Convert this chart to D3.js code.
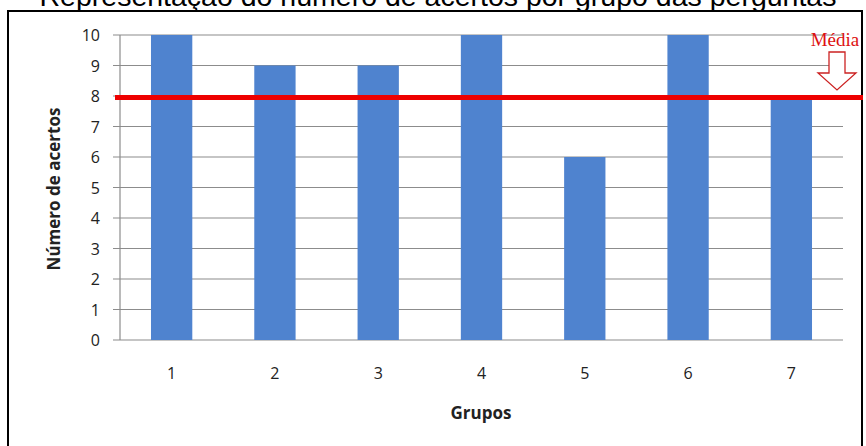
<!DOCTYPE html>
<html>
<head>
<meta charset="utf-8">
<script src="https://cdn.jsdelivr.net/npm/d3@7"></script>
<style>
  body { margin: 0; background: #fff; }
  svg { display: block; }
</style>
</head>
<body>
<div id="chart"></div>
<script>
var grupos = ['1', '2', '3', '4', '5', '6', '7'];
var acertos = [10, 9, 9, 10, 6, 10, 8];
var yTicks = [0, 1, 2, 3, 4, 5, 6, 7, 8, 9, 10];
var media = 7.95;

var width = 866, height = 446;
var margin = { left: 120, right: 23, top: 35, bottom: 106 };

var svg = d3.select('#chart').append('svg')
  .attr('width', width)
  .attr('height', height);

// frame
svg.append('rect')
  .attr('x', 8).attr('y', 11)
  .attr('width', 854).attr('height', 460)
  .attr('fill', 'none')
  .attr('stroke', '#000')
  .attr('stroke-width', 2);

// title (its top is cut off in the original picture)
svg.append('text')
  .attr('x', 438).attr('y', 6)
  .attr('text-anchor', 'middle')
  .style('font-family', 'Liberation Sans, Arial, sans-serif')
  .style('font-size', '28.5px')
  .text('Representação do número de acertos por grupo das perguntas');

var x = d3.scaleBand()
  .domain(grupos)
  .range([margin.left, width - margin.right])
  .paddingInner(0.6)
  .paddingOuter(0.3);

var y = d3.scaleLinear()
  .domain([0, 10])
  .range([height - margin.bottom, margin.top]);

// gridlines
svg.append('g')
  .selectAll('line')
  .data(yTicks)
  .enter().append('line')
  .attr('x1', margin.left - 7)
  .attr('x2', width - margin.right)
  .attr('y1', function (d) { return y(d); })
  .attr('y2', function (d) { return y(d); })
  .attr('stroke', '#8c8c8c')
  .attr('stroke-width', 1.2);

// y axis line
svg.append('line')
  .attr('x1', margin.left).attr('x2', margin.left)
  .attr('y1', y(10)).attr('y2', y(0))
  .attr('stroke', '#8c8c8c')
  .attr('stroke-width', 1.2);

// bars
svg.append('g')
  .selectAll('rect')
  .data(acertos)
  .enter().append('rect')
  .attr('x', function (d, i) { return x(grupos[i]); })
  .attr('y', function (d) { return y(d); })
  .attr('width', x.bandwidth())
  .attr('height', function (d) { return y(0) - y(d); })
  .attr('fill', '#4f83cf');

// y tick labels
svg.append('g')
  .selectAll('text')
  .data(yTicks)
  .enter().append('text')
  .attr('x', 100)
  .attr('y', function (d) { return y(d) + 6; })
  .attr('text-anchor', 'end')
  .style('font-family', 'Open Sans, sans-serif')
  .style('font-size', '16px')
  .attr('fill', '#222')
  .text(function (d) { return d; });

// x tick labels
svg.append('g')
  .selectAll('text')
  .data(grupos)
  .enter().append('text')
  .attr('x', function (d) { return x(d) + x.bandwidth() / 2; })
  .attr('y', 379)
  .attr('text-anchor', 'middle')
  .style('font-family', 'Open Sans, sans-serif')
  .style('font-size', '16px')
  .attr('fill', '#222')
  .text(function (d) { return d; });

// axis titles
svg.append('text')
  .attr('x', 481).attr('y', 419)
  .attr('text-anchor', 'middle')
  .style('font-family', 'Open Sans, sans-serif')
  .style('font-size', '17px')
  .style('font-weight', 'bold')
  .attr('fill', '#222')
  .text('Grupos');

svg.append('text')
  .attr('transform', 'translate(60,' + 189 + ') rotate(-90)')
  .attr('text-anchor', 'middle')
  .style('font-family', 'Open Sans, sans-serif')
  .style('font-size', '17px')
  .style('font-weight', 'bold')
  .attr('fill', '#222')
  .text('Número de acertos');

// mean line
svg.append('line')
  .attr('x1', margin.left - 5).attr('x2', 863)
  .attr('y1', y(media)).attr('y2', y(media))
  .attr('stroke', '#ee0000')
  .attr('stroke-width', 5);

svg.append('text')
  .attr('x', 835).attr('y', 46)
  .attr('text-anchor', 'middle')
  .style('font-family', 'Liberation Serif, Times New Roman, serif')
  .style('font-size', '19px')
  .attr('fill', '#dd1111')
  .text('Média');

// hollow arrow pointing down to the mean line
var ax = 837, at = 52, ab = 90, neck = 21;
svg.append('path')
  .attr('d', 'M' + (ax - 8) + ',' + at + ' L' + (ax + 8) + ',' + at +
    ' L' + (ax + 8) + ',' + (at + neck) + ' L' + (ax + 19) + ',' + (at + neck) +
    ' L' + ax + ',' + ab + ' L' + (ax - 19) + ',' + (at + neck) +
    ' L' + (ax - 8) + ',' + (at + neck) + ' Z')
  .attr('fill', '#fff')
  .attr('stroke', '#cc2222')
  .attr('stroke-width', 1.3);
</script>
</body>
</html>
